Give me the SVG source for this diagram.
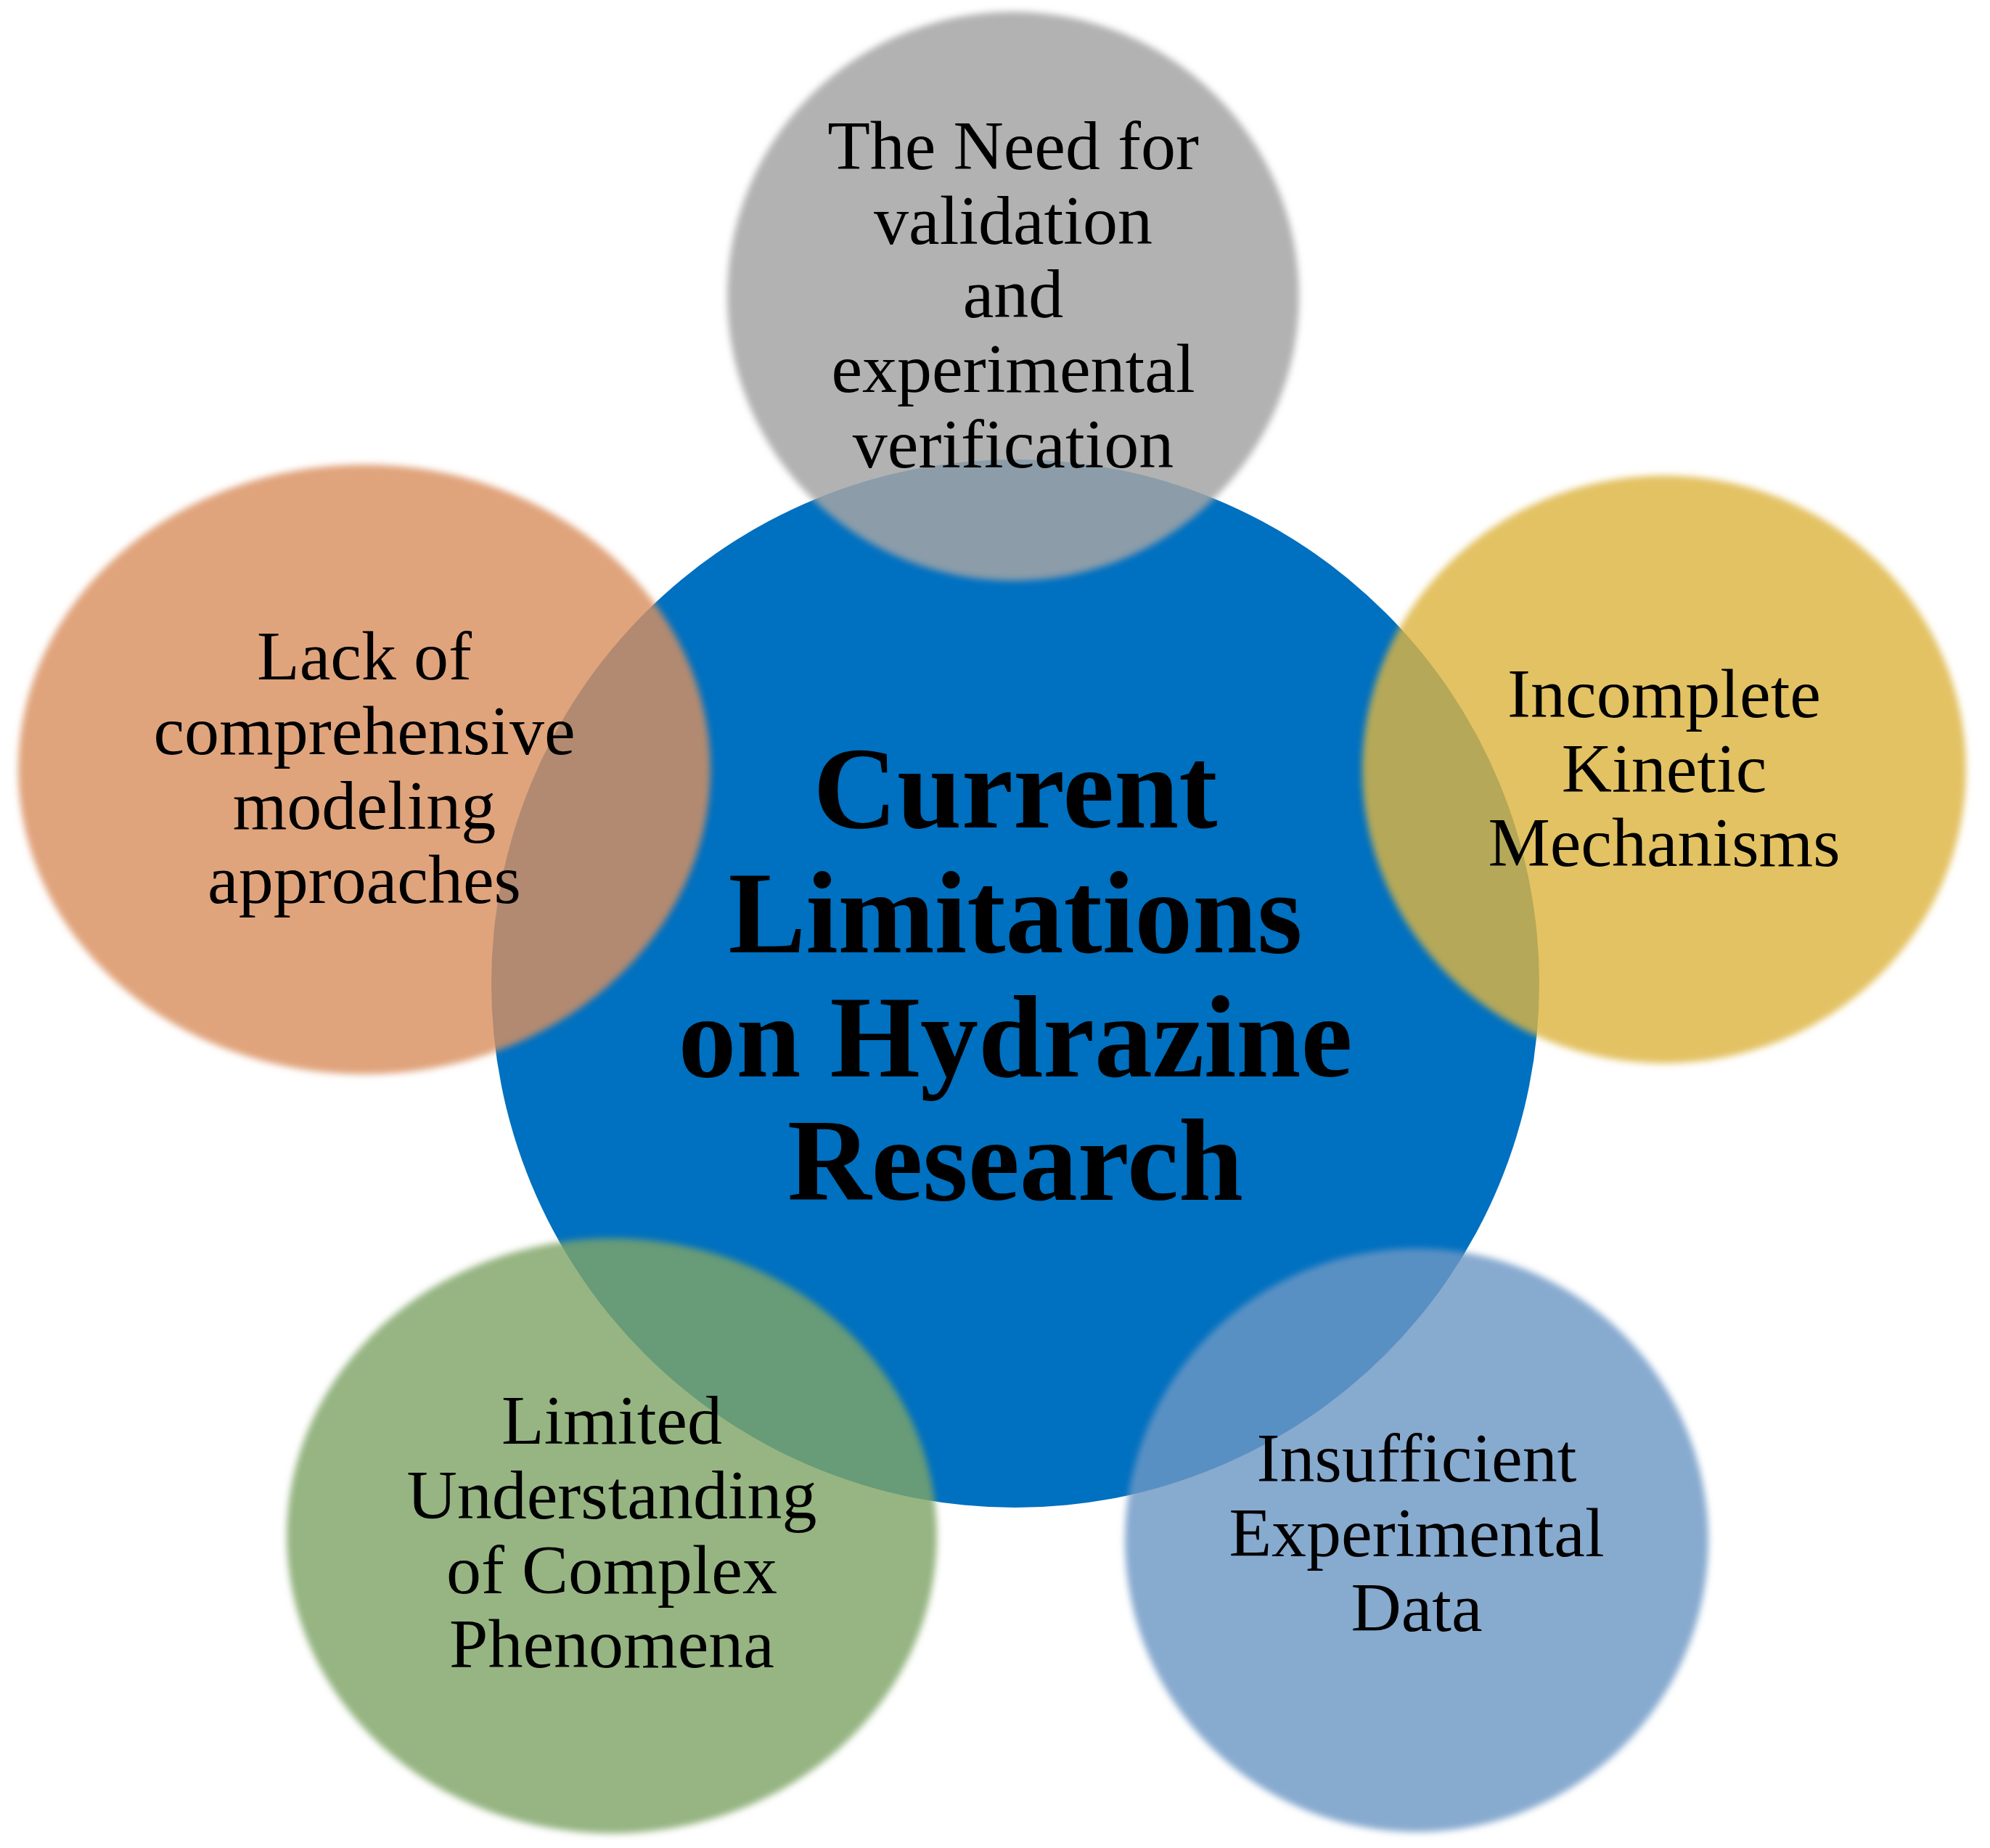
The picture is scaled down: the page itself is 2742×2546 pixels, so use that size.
<svg xmlns="http://www.w3.org/2000/svg" width="2742" height="2546" viewBox="0 0 2742 2546">
<style>
.sat{font-family:"Liberation Serif",serif;font-size:96px;fill:#000;text-anchor:middle}
.ctr{font-family:"Liberation Serif",serif;font-size:160px;font-weight:bold;fill:#000;text-anchor:middle}
</style>
<defs><filter id="soft" x="-10%" y="-10%" width="120%" height="120%"><feGaussianBlur stdDeviation="5"/></filter></defs>
<rect width="2742" height="2546" fill="#fff"/>
<g id="center"><circle cx="1399" cy="1355" r="722" fill="#0070C0"/></g>
<g id="n-top"><ellipse cx="1396" cy="408" rx="394" ry="392" fill="#A5A5A5" fill-opacity="0.85" filter="url(#soft)"/>
<text class="sat" x="1396" y="233">The Need for</text><text class="sat" x="1396" y="336">validation</text><text class="sat" x="1396" y="437">and</text><text class="sat" x="1396" y="540">experimental</text><text class="sat" x="1396" y="644">verification</text></g>
<g id="n-left"><ellipse cx="502" cy="1060" rx="477" ry="420" fill="#D9905F" fill-opacity="0.82" filter="url(#soft)"/>
<text class="sat" x="502" y="936">Lack of</text><text class="sat" x="502" y="1039">comprehensive</text><text class="sat" x="502" y="1142">modeling</text><text class="sat" x="502" y="1244">approaches</text></g>
<g id="n-right"><ellipse cx="2293" cy="1060" rx="416" ry="405" fill="#DDB440" fill-opacity="0.82" filter="url(#soft)"/>
<text class="sat" x="2293" y="988">Incomplete</text><text class="sat" x="2293" y="1091">Kinetic</text><text class="sat" x="2293" y="1193">Mechanisms</text></g>
<g id="n-bl"><ellipse cx="843" cy="2116" rx="448" ry="410" fill="#7FA566" fill-opacity="0.82" filter="url(#soft)"/>
<text class="sat" x="843" y="1989">Limited</text><text class="sat" x="843" y="2092">Understanding</text><text class="sat" x="843" y="2195">of Complex</text><text class="sat" x="843" y="2297">Phenomena</text></g>
<g id="n-br"><ellipse cx="1952" cy="2122" rx="402" ry="402" fill="#6D97C4" fill-opacity="0.82" filter="url(#soft)"/>
<text class="sat" x="1952" y="2041">Insufficient</text><text class="sat" x="1952" y="2144">Experimental</text><text class="sat" x="1952" y="2247">Data</text></g>
<g id="center-text"><text class="ctr" x="1399" y="1140">Current</text><text class="ctr" x="1399" y="1312">Limitations</text><text class="ctr" x="1399" y="1483">on Hydrazine</text><text class="ctr" x="1399" y="1653">Research</text></g>
<g id="connectors"/>
</svg>
